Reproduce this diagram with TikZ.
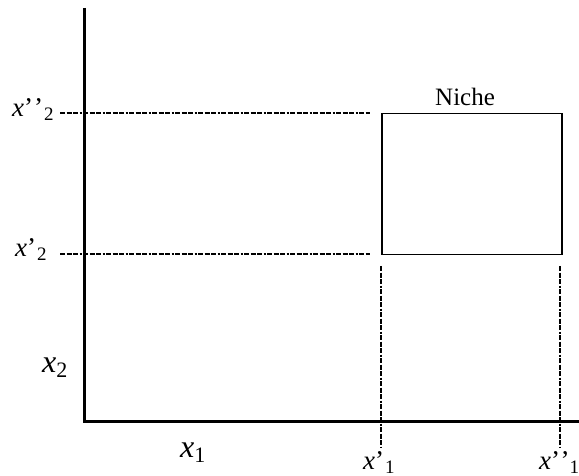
\documentclass[tikz,border=0pt]{standalone}
\usepackage{fontspec}
\setmainfont{Liberation Serif}
\newcommand{\primelab}[2]{\fontsize{27}{30}\selectfont\textit{x}#1\raisebox{-4pt}{\fontsize{19}{22}\selectfont #2}}
\newcommand{\axlab}[1]{\fontsize{32}{36}\selectfont\textit{x}\raisebox{-5pt}{\fontsize{22}{26}\selectfont #1}}
\begin{document}
\begin{tikzpicture}[x=1pt,y=-1pt,
  axis/.style={line width=3pt},
  guide/.style={line width=2.8pt, dash pattern=on 5pt off 1.5pt on 5pt off 1.5pt on 5pt off 1.5pt on 2pt off 1.5pt},
  lbl/.style={inner sep=0pt, anchor=base west}]
\useasboundingbox (0,0) rectangle (579,476);
% axes
\coordinate (O) at (84,421);
\coordinate (ytop) at (84,8);
\coordinate (xend) at (579,421);
\draw[axis] (ytop) -- (O) -- (xend);
% niche box
\node[draw, line width=1.5pt, minimum width=180pt, minimum height=141pt, inner sep=0pt, anchor=north west] (box) at (381,113) {};
\node[lbl, font=\fontsize{25}{28}\selectfont] (niche) at (435,106) {Niche};
% guide lines
\coordinate (h2a) at (60,113);
\coordinate (h2b) at (370,113);
\coordinate (h1a) at (60,254);
\coordinate (h1b) at (370,254);
\draw[guide] (h2a) -- (h2b);
\draw[guide] (h1a) -- (h1b);
\coordinate (v1a) at (381,266);
\coordinate (v1b) at (381,448);
\coordinate (v2a) at (560,266);
\coordinate (v2b) at (560,448);
\draw[guide] (v1a) -- (v1b);
\draw[guide] (v2a) -- (v2b);
% labels
\node[lbl] (l2pp) at (12,117) {\primelab{’\kern1pt’\kern1pt}{2}};
\node[lbl] (l2p) at (15,257) {\primelab{’\kern1pt}{2}};
\node[lbl] (l2) at (42,372) {\axlab{2}};
\node[lbl] (l1) at (180,457) {\axlab{1}};
\node[lbl] (l1p) at (363,469) {\primelab{’\kern1pt}{1}};
\node[lbl] (l1pp) at (539,469) {\primelab{’\kern0.5pt’}{1}};
\end{tikzpicture}
\end{document}
